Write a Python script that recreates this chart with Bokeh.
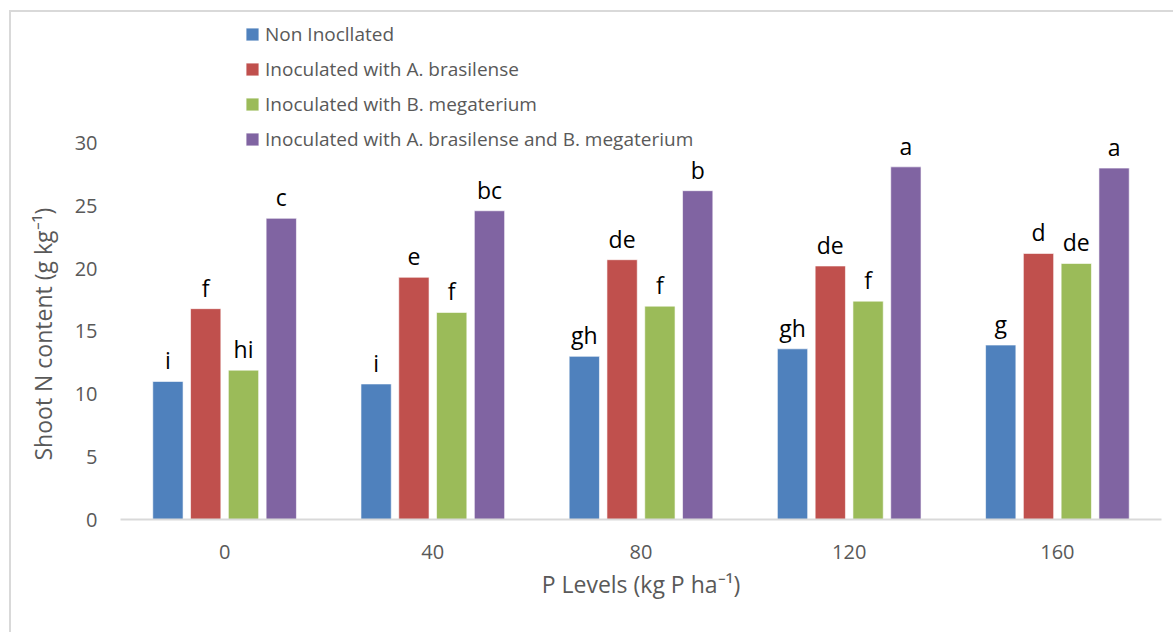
from bokeh.plotting import figure
from bokeh.models import ColumnDataSource, FactorRange, Legend, LegendItem, Range1d, LabelSet, Title
from bokeh.transform import dodge
from bokeh.core.properties import value
from bokeh.embed import file_html
from bokeh.resources import INLINE

# ---- data ----
levels = ["0", "40", "80", "120", "160"]
series_names = [
    "Non Inocllated",
    "Inoculated with A. brasilense",
    "Inoculated with B. megaterium",
    "Inoculated with A. brasilense and B. megaterium",
]
non_inoculated = [11.0, 10.8, 13.0, 13.6, 13.9]
a_brasilense = [16.8, 19.3, 20.7, 20.2, 21.2]
b_megaterium = [11.9, 16.5, 17.0, 17.4, 20.4]
combined = [24.0, 24.6, 26.2, 28.1, 28.0]
letters_non = ["i", "i", "gh", "gh", "g"]
letters_a = ["f", "e", "de", "de", "d"]
letters_b = ["hi", "f", "f", "f", "de"]
letters_comb = ["c", "bc", "b", "a", "a"]
y_ticks = [0, 5, 10, 15, 20, 25, 30]

colors = ["#4F81BD", "#C0504D", "#9BBB59", "#8064A2"]
FONT = "Open Sans"
GRAY = "#595959"

series = [non_inoculated, a_brasilense, b_megaterium, combined]
letters = [letters_non, letters_a, letters_b, letters_comb]

# the value range is extended above 30 so the legend can sit above the bars
p = figure(
    x_range=FactorRange(*levels),
    y_range=Range1d(0, 40),
    width=1164, height=622,
    output_backend="svg", toolbar_location=None,
    min_border_left=109, min_border_right=14,
    min_border_top=5, min_border_bottom=115,
    margin=(10, 0, 0, 9),
)
p.styles = {"border-left": "2px solid #d9d9d9", "border-top": "2px solid #d9d9d9"}
p.outline_line_color = None
p.xgrid.grid_line_color = None
p.ygrid.grid_line_color = None

step = 0.1815
bw = 0.1455
items = []
for i, (vals, labs, col, name) in enumerate(zip(series, letters, colors, series_names)):
    src = ColumnDataSource(dict(level=levels, val=vals, lab=labs))
    off = (i - 1.5) * step
    r = p.vbar(x=dodge("level", off, range=p.x_range), top="val", width=bw,
               source=src, fill_color=col, line_color="white", line_width=0.6)
    ls = LabelSet(x=dodge("level", off, range=p.x_range), y="val", text="lab", source=src,
                  text_font=value(FONT), text_font_size="23px", text_color="black",
                  text_align="center", text_baseline="alphabetic", y_offset=12)
    p.add_layout(ls)
    items.append(LegendItem(label=name, renderers=[r]))

legend = Legend(items=items, location=(124, 502 - 135), orientation="vertical",
                glyph_width=16, glyph_height=16, label_standoff=5, spacing=9,
                padding=0, margin=0, border_line_color=None, background_fill_alpha=0,
                label_text_font=FONT, label_text_font_size="19px",
                label_text_color=GRAY, label_height=22)
p.add_layout(legend)

# axes
p.xaxis.axis_line_color = "#d9d9d9"
p.xaxis.axis_line_width = 2
p.xaxis.major_tick_line_color = None
p.xaxis.minor_tick_line_color = None
p.xaxis.major_label_standoff = 19
p.xaxis.major_label_text_font = FONT
p.xaxis.major_label_text_font_size = "20px"
p.xaxis.major_label_text_color = GRAY
p.xaxis.axis_label = "P Levels (kg P ha\u207b\u00b9)"
p.xaxis.axis_label_text_font = FONT
p.xaxis.axis_label_text_font_size = "23px"
p.xaxis.axis_label_text_font_style = "normal"
p.xaxis.axis_label_text_color = GRAY
p.xaxis.axis_label_standoff = 6

p.yaxis.ticker = y_ticks
p.yaxis.axis_line_color = None
p.yaxis.major_tick_line_color = None
p.yaxis.minor_tick_line_color = None
p.yaxis.major_label_standoff = 17
p.yaxis.major_label_text_font = FONT
p.yaxis.major_label_text_font_size = "20px"
p.yaxis.major_label_text_color = GRAY

ytitle = Title(text="Shoot N content (g kg\u207b\u00b9)", align="left", offset=59,
               text_font=FONT, text_font_size="23px", text_font_style="normal",
               text_color=GRAY, standoff=26)
p.add_layout(ytitle, "left")

open("out.html", "w").write(file_html(p, INLINE))
